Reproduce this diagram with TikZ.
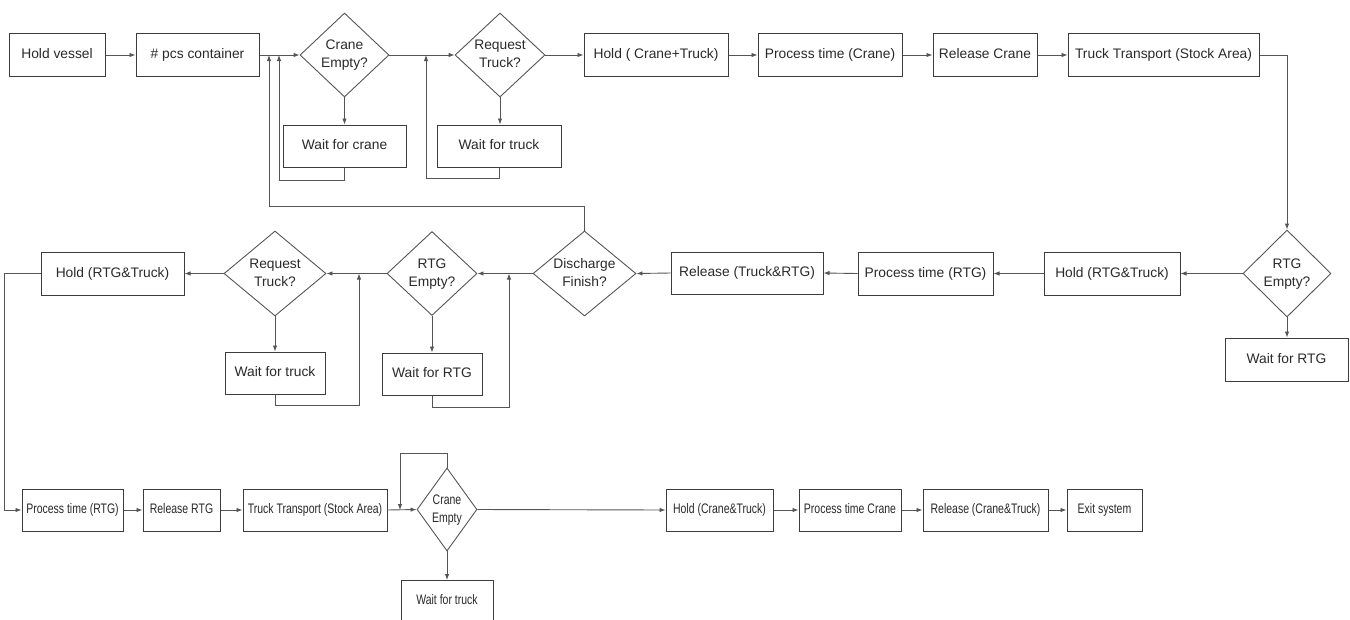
\documentclass[tikz,border=0pt]{standalone}
\usepackage{fontspec}
\setmainfont{Liberation Sans}
\usetikzlibrary{arrows.meta,shapes.geometric}
\definecolor{edge}{HTML}{3C3C3C}
\definecolor{wire}{HTML}{555555}
\definecolor{ink}{HTML}{2A2A2A}
\newcommand{\cnd}[1]{\scalebox{0.76}[1]{#1}}
\newcommand{\two}[2]{\begin{tabular}{@{}c@{}}#1\\#2\end{tabular}}
\begin{document}
\begin{tikzpicture}[x=1pt,y=-1pt,
  every node/.style={font=\fontsize{13.8}{18}\selectfont, text=ink},
  box/.style={draw=edge, line width=1pt, fill=white, inner sep=0pt,
    minimum height=43pt, align=center, text height=10pt, text depth=3pt},
  dia/.style={draw=wire, line width=0.9pt, diamond, inner sep=0pt, fill=white},
  arr/.style={draw=wire, line width=0.9pt, -{Latex[length=6pt,width=4.5pt]}},
  ln/.style={draw=wire, line width=0.9pt}]
\useasboundingbox (0,0) rectangle (1350,619);
\begin{scope}
\clip (0,0) rectangle (1350,619);

% ---- top row ----
\node[box, minimum width=96pt]  (hv)  at (57,55)     {Hold vessel};
\node[box, minimum width=123pt] (pcs) at (197.5,55)  {\# pcs container};
\node[dia, minimum width=89pt, minimum height=84pt] (d1) at (344.5,55) {};
\node at (d1.center) {\two{Crane}{Empty?}};
\node[box, minimum width=123pt, minimum height=42pt] (wc) at (344.5,146) {Wait for crane};
\node[dia, minimum width=90pt, minimum height=84pt] (d2) at (500,55) {};
\node at (d2.center) {\two{Request}{Truck?}};
\node[box, minimum width=124pt, minimum height=42pt] (wt1) at (499,146) {Wait for truck};
\node[box, minimum width=144pt] (hct) at (656,55)    {Hold ( Crane+Truck)};
\node[box, minimum width=144pt] (ptc) at (830,55)    {Process time (Crane)};
\node[box, minimum width=104pt] (rc)  at (985,55)    {Release Crane};
\node[box, minimum width=191pt] (tt1) at (1163.5,55) {Truck Transport (Stock Area)};

% ---- middle row ----
\node[dia, minimum width=88pt, minimum height=87pt] (d3) at (1287,273.5) {};
\node at (d3.center) {\two{RTG}{Empty?}};
\node[box, minimum width=123pt] (wr1) at (1286.5,359.5) {Wait for RTG};
\node[box, minimum width=136pt] (hrt1) at (1112,273.5) {Hold (RTG\&Truck)};
\node[box, minimum width=135pt] (ptr1) at (925.5,273.5) {Process time (RTG)};
\node[box, minimum width=152pt, minimum height=42pt] (rtr) at (747,273) {Release (Truck\&RTG)};
\node[dia, minimum width=103pt, minimum height=85pt] (d4) at (584.5,273.5) {};
\node at (d4.center) {\two{Discharge}{Finish?}};
\node[dia, minimum width=90pt, minimum height=84pt] (d5) at (432,273.5) {};
\node at (d5.center) {\two{RTG}{Empty?}};
\node[box, minimum width=100pt, minimum height=42pt] (wr2) at (432,374) {Wait for RTG};
\node[dia, minimum width=102pt, minimum height=85pt] (d6) at (275,273.5) {};
\node at (d6.center) {\two{Request}{Truck?}};
\node[box, minimum width=100pt, minimum height=42pt] (wt2) at (275,373) {Wait for truck};
\node[box, minimum width=143pt] (hrt2) at (112.5,273.5) {Hold (RTG\&Truck)};

% ---- bottom row ----
\node[box, minimum width=101pt, minimum height=42pt] (ptr2) at (72.5,510)  {\cnd{Process time (RTG)}};
\node[box, minimum width=77pt,  minimum height=42pt] (rr)   at (181.5,510) {\cnd{Release RTG}};
\node[box, minimum width=144pt, minimum height=42pt] (tt2)  at (315,510)   {\cnd{Truck Transport (Stock Area)}};
\node[dia, minimum width=60pt, minimum height=83pt] (d7) at (447,509.5) {};
\node at (d7.center) {\cnd{\two{Crane}{Empty}}};
\node[box, minimum width=92pt, minimum height=80pt, anchor=north] (wt3) at (447,580) {};
\node[text height=10pt, text depth=3pt] at (447,601) {\cnd{Wait for truck}};
\node[box, minimum width=107pt, minimum height=42pt] (hct2) at (719.5,510)  {\cnd{Hold (Crane\&Truck)}};
\node[box, minimum width=102pt, minimum height=42pt] (ptc2) at (850,510)    {\cnd{Process time Crane}};
\node[box, minimum width=125pt, minimum height=42pt] (rct)  at (985.5,510)  {\cnd{Release (Crane\&Truck)}};
\node[box, minimum width=75pt,  minimum height=42pt] (ex)   at (1104.5,510) {\cnd{Exit system}};

% ---- merge points ----
\coordinate (j0) at (269,55);
\coordinate (j1) at (279,55);
\coordinate (j2) at (426,55);
\coordinate (j3) at (509,273.5);
\coordinate (j4) at (359,273.5);
\coordinate (j5) at (400,510);
\end{scope}

% ---- connectors: top row ----
\draw[arr] (hv.east) -- (pcs.west);
\draw[arr] (pcs.east) -- (d1.west);
\draw[arr] (d1.south) -- (wc.north);
\draw[arr] (wc.south) -- ++(0,13) -| (j1);
\draw[arr] (d4.north) -- ++(0,-24) -| (j0);
\draw[arr] (d1.east) -- (d2.west);
\draw[arr] (d2.south) -- (wt1.north -| d2.south);
\draw[arr] (wt1.south) -- ++(0,11) -| (j2);
\draw[arr] (d2.east) -- (hct.west);
\draw[arr] (hct.east) -- (ptc.west);
\draw[arr] (ptc.east) -- (rc.west);
\draw[arr] (rc.east) -- (tt1.west);
\draw[arr] (tt1.east) -| (d3.north);

% ---- connectors: middle row ----
\draw[arr] (d3.south) -- (wr1.north -| d3.south);
\draw[arr] (d3.west) -- (hrt1.east);
\draw[arr] (hrt1.west) -- (ptr1.east);
\draw[arr] (ptr1.west) -- (rtr.east);
\draw[arr] (rtr.west) -- (d4.east);
\draw[arr] (d4.west) -- (d5.east);
\draw[arr] (d5.south) -- (wr2.north);
\draw[arr] (wr2.south) -- ++(0,12) -| (j3);
\draw[arr] (d5.west) -- (d6.east);
\draw[arr] (d6.south) -- (wt2.north);
\draw[arr] (wt2.south) -- ++(0,11) -| (j4);
\draw[arr] (d6.west) -- (hrt2.east);
\draw[arr] (hrt2.west) -- ++(-36,0) |- (ptr2.west);

% ---- connectors: bottom row ----
\draw[arr] (ptr2.east) -- (rr.west);
\draw[arr] (rr.east) -- (tt2.west);
\draw[arr] (tt2.east) -- (d7.west);
\draw[arr] (d7.north) -- ++(0,-14) -| (j5);
\draw[arr] (d7.south) -- (wt3.north);
\draw[arr] (d7.east) -- (hct2.west);
\draw[arr] (hct2.east) -- (ptc2.west);
\draw[arr] (ptc2.east) -- (rct.west);
\draw[arr] (rct.east) -- (ex.west);
\end{tikzpicture}
\end{document}
